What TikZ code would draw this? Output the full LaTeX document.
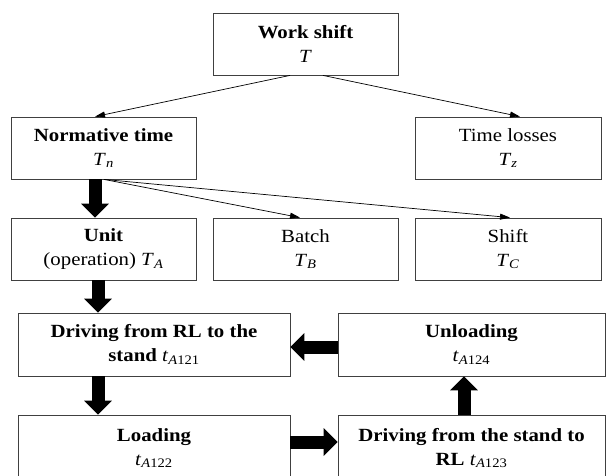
\documentclass[tikz,border=0pt]{standalone}
\usepackage{fontspec}
\setmainfont{Liberation Serif}[FakeStretch=1.12]
\usetikzlibrary{arrows.meta}
\begin{document}
\begin{tikzpicture}[x=1pt,y=1pt,
  box/.style={draw=black!75, line width=0.8pt, rectangle, minimum width=185pt,
    minimum height=62pt, inner sep=0pt, align=center,
    font=\fontsize{18.6}{24}\selectfont},
  thinarrow/.style={line width=0.7pt, -{Triangle[length=10pt,width=6pt]}},
  fatarrow/.style={line width=13pt, -{Triangle[length=14pt,width=27pt]}}]
\useasboundingbox (0,0) rectangle (606,-475);
% nodes
\node[box] (ws) at (305.5,-44) {\textbf{Work shift}\\\textit{T}};
\node[box] (nt) at (103.5,-148) {\textbf{Normative time}\\\textit{T}\textsubscript{\textit{n}}};
\node[box, minimum width=186pt] (tl) at (508,-148) {Time losses\\\textit{T}\textsubscript{\textit{z}}};
\node[box] (un) at (103.5,-249) {\textbf{Unit}\\(operation) \textit{T}\textsubscript{\textit{A}}};
\node[box] (ba) at (305.5,-249) {Batch\\\textit{T}\textsubscript{\textit{B}}};
\node[box, minimum width=186pt] (sh) at (508,-249) {Shift\\\textit{T}\textsubscript{\textit{C}}};
\node[box, minimum width=272pt, minimum height=63pt] (d1) at (154,-344.5)
  {\textbf{Driving from RL to the}\\\textbf{stand} \textit{t}\textsubscript{\textit{A}121}};
\node[box, minimum width=267pt, minimum height=63pt] (ul) at (471.5,-344.5)
  {\textbf{Unloading}\\\textit{t}\textsubscript{\textit{A}124}};
\node[box, minimum width=272pt, minimum height=66pt] (lo) at (154,-448)
  {\textbf{Loading}\\\textit{t}\textsubscript{\textit{A}122}};
\node[box, minimum width=267pt, minimum height=66pt] (d2) at (471.5,-448)
  {\textbf{Driving from the stand to}\\\textbf{RL} \textit{t}\textsubscript{\textit{A}123}};
% thin connectors
\draw[thinarrow] ([xshift=-15.5pt]ws.south) -- ([xshift=-8.5pt]nt.north);
\draw[thinarrow] ([xshift=17.5pt]ws.south) -- ([xshift=12pt]tl.north);
\draw[thinarrow] ([xshift=0.5pt]nt.south) -- ([xshift=-5.5pt]ba.north);
\draw[thinarrow] ([xshift=0.5pt]nt.south) -- ([xshift=2pt]sh.north);
% thick connectors
\draw[fatarrow] ([xshift=-8.5pt]nt.south) -- ([xshift=-8.5pt]un.north);
\draw[fatarrow] ([xshift=-5.5pt]un.south) -- ([xshift=-56pt]d1.north);
\draw[fatarrow] ([xshift=-56pt]d1.south) -- ([xshift=-56pt]lo.north);
\draw[fatarrow] ([yshift=6pt]lo.east) -- ([yshift=6pt]d2.west);
\draw[fatarrow] ([xshift=-7.5pt]d2.north) -- ([xshift=-7.5pt]ul.south);
\draw[fatarrow] ([yshift=-2.5pt]ul.west) -- ([yshift=-2.5pt]d1.east);
\end{tikzpicture}
\end{document}
